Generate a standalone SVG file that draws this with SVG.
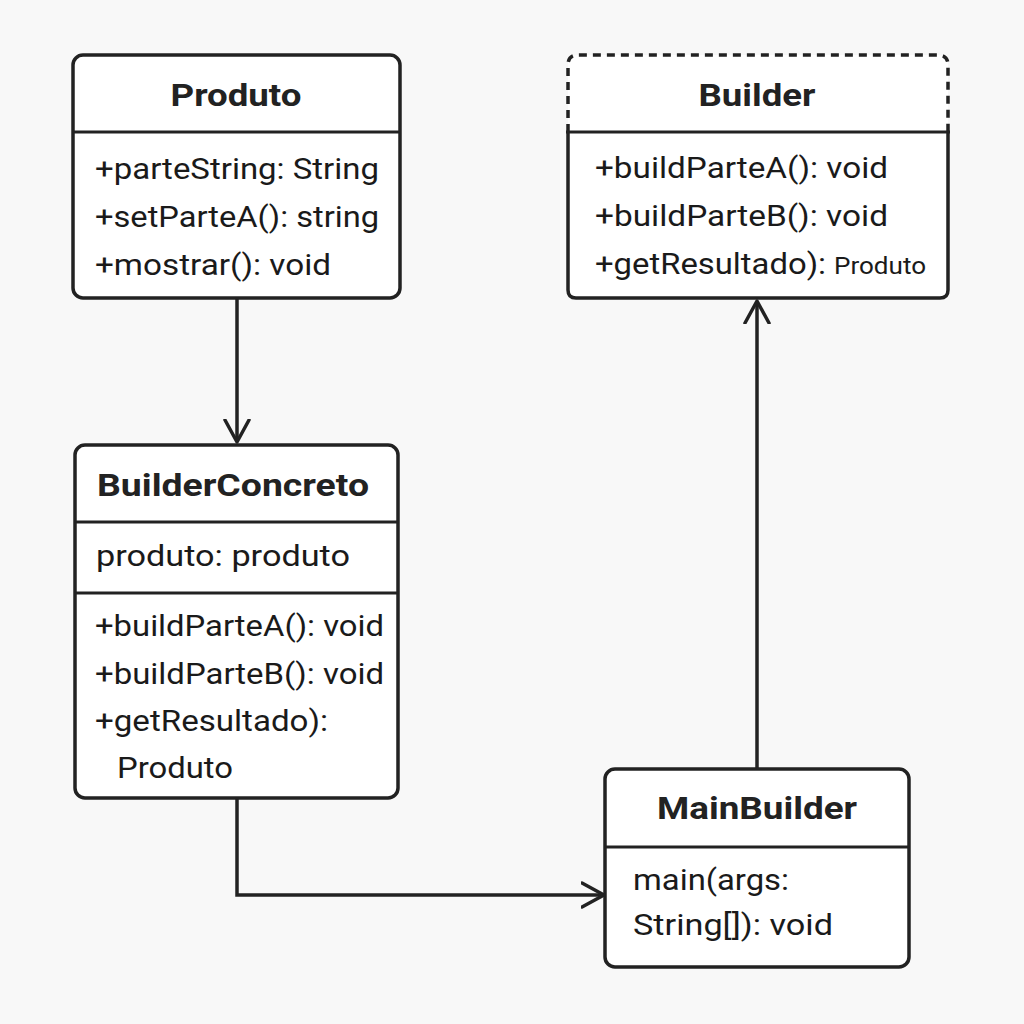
<svg xmlns="http://www.w3.org/2000/svg" width="1024" height="1024" viewBox="0 0 1024 1024">
<defs>
<style>
.box{fill:#fff;stroke:#222;stroke-width:3.5}
.sep{stroke:#222;stroke-width:3}
.title{font-family:Roboto,"Liberation Sans",sans-serif;font-weight:bold;font-size:32px;fill:#222;text-anchor:middle}
.t{font-family:Roboto,"Liberation Sans",sans-serif;font-size:30px;fill:#1a1a1a}
.s{font-family:Roboto,"Liberation Sans",sans-serif;font-size:24px;fill:#1a1a1a}
.conn{fill:none;stroke:#222;stroke-width:3.5}
</style>
<marker id="arr" markerWidth="26" markerHeight="28" refX="23" refY="14" orient="auto" markerUnits="userSpaceOnUse">
<path d="M1,2 L23,14 L1,26" fill="none" stroke="#222" stroke-width="3.5" stroke-linecap="round" stroke-linejoin="round"/>
</marker>
</defs>
<rect width="1024" height="1024" fill="#f8f8f8"/>
<g id="connectors">
<line class="conn" x1="237" y1="298" x2="237" y2="442" marker-end="url(#arr)"/>
<polyline class="conn" points="237,798 237,895 604,895" marker-end="url(#arr)"/>
<line class="conn" x1="757" y1="769" x2="757" y2="301" marker-end="url(#arr)"/>
</g>
<g id="produto">
<rect class="box" x="73" y="55" width="327" height="243" rx="10"/>
<line class="sep" x1="73" y1="132" x2="400" y2="132"/>
<text class="title" x="236" y="106" textLength="131" lengthAdjust="spacingAndGlyphs">Produto</text>
<text class="t" x="95" y="179" textLength="284" lengthAdjust="spacingAndGlyphs">+parteString: String</text>
<text class="t" x="95" y="227" textLength="284" lengthAdjust="spacingAndGlyphs">+setParteA(): string</text>
<text class="t" x="95" y="275" textLength="236" lengthAdjust="spacingAndGlyphs">+mostrar(): void</text>
</g>
<g id="builder">
<path d="M568,132 L568,290 Q568,298 576,298 L940,298 Q948,298 948,290 L948,132" fill="#fff" stroke="#222" stroke-width="3.5"/>
<path d="M568,132 L568,65 Q568,55 578,55 L938,55 Q948,55 948,65 L948,132" fill="#fff" stroke="#222" stroke-width="3.5" stroke-dasharray="8,6"/>
<line class="sep" x1="566" y1="132" x2="950" y2="132"/>
<text class="title" x="757" y="106" textLength="117" lengthAdjust="spacingAndGlyphs">Builder</text>
<text class="t" x="595" y="178" textLength="293" lengthAdjust="spacingAndGlyphs">+buildParteA(): void</text>
<text class="t" x="595" y="226" textLength="293" lengthAdjust="spacingAndGlyphs">+buildParteB(): void</text>
<text class="t" x="595" y="274" textLength="231" lengthAdjust="spacingAndGlyphs">+getResultado):</text>
<text class="s" x="834" y="274" textLength="92" lengthAdjust="spacingAndGlyphs">Produto</text>
</g>
<g id="builderconcreto">
<rect class="box" x="75" y="445" width="323" height="353" rx="10"/>
<line class="sep" x1="75" y1="522" x2="398" y2="522"/>
<line class="sep" x1="75" y1="593" x2="398" y2="593"/>
<text class="title" x="233" y="496" textLength="272" lengthAdjust="spacingAndGlyphs">BuilderConcreto</text>
<text class="t" x="96" y="566" textLength="254" lengthAdjust="spacingAndGlyphs">produto: produto</text>
<text class="t" x="95" y="636" textLength="289" lengthAdjust="spacingAndGlyphs">+buildParteA(): void</text>
<text class="t" x="95" y="684" textLength="289" lengthAdjust="spacingAndGlyphs">+buildParteB(): void</text>
<text class="t" x="95" y="731" textLength="233" lengthAdjust="spacingAndGlyphs">+getResultado):</text>
<text class="t" x="117" y="778" textLength="116" lengthAdjust="spacingAndGlyphs">Produto</text>
</g>
<g id="mainbuilder">
<rect class="box" x="605" y="769" width="304" height="198" rx="10"/>
<line class="sep" x1="605" y1="847" x2="909" y2="847"/>
<text class="title" x="757" y="819" textLength="200" lengthAdjust="spacingAndGlyphs">MainBuilder</text>
<text class="t" x="633" y="890" textLength="156" lengthAdjust="spacingAndGlyphs">main(args:</text>
<text class="t" x="633" y="935" textLength="200" lengthAdjust="spacingAndGlyphs">String[]): void</text>
</g>
</svg>
